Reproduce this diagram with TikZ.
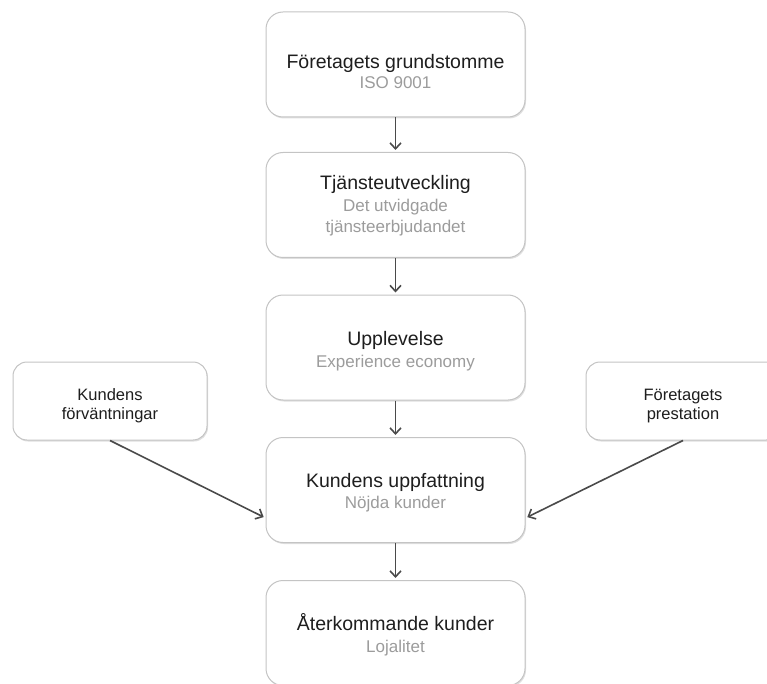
\documentclass[tikz,border=0pt]{standalone}
\usepackage{fontspec}
\setmainfont{Liberation Sans}
\usetikzlibrary{arrows.meta,shadows}
\definecolor{linegray}{HTML}{C4C4C4}
\definecolor{subgray}{HTML}{9C9C9C}
\definecolor{textgray}{HTML}{1E1E1E}
\definecolor{arrowgray}{HTML}{4A4A4A}

\begin{document}
\begin{tikzpicture}[x=1pt,y=-1pt,
  box/.style={draw=linegray, line width=1pt, fill=white, rounded corners=17pt,
    minimum width=259pt, minimum height=105pt,
    drop shadow={opacity=0.25,shadow xshift=1pt,shadow yshift=-1.5pt}},
  sidebox/.style={box, minimum width=194pt, minimum height=78pt, rounded corners=14pt},
  titel/.style={anchor=base, inner sep=0pt, text=textgray, font=\fontsize{19.5}{23}\selectfont},
  under/.style={anchor=base, inner sep=0pt, text=subgray, font=\fontsize{17}{21}\selectfont},
  sidetext/.style={anchor=base, inner sep=0pt, text=textgray, font=\fontsize{16.5}{20}\selectfont},
  pil/.style={-{Straight Barb[length=6pt,width=11pt]}, line width=1.6pt,
    draw=arrowgray, shorten >=2pt}]
\useasboundingbox (0,0) rectangle (767,684);
% main column
\node[box] (1) at (395.5,64.5) {};
\node[box] (2) at (395.5,205) {};
\node[box] (3) at (395.5,347.5) {};
\node[box] (4) at (395.5,490) {};
\node[box] (5) at (395.5,633) {};
\node[titel] (1t) at (395.5,69) {Företagets grundstomme};
\node[under] (1u) at (395.5,89) {ISO 9001};
\node[titel] (2t) at (395.5,190) {Tjänsteutveckling};
\node[under] (2u) at (395.5,212) {Det utvidgade};
\node[under] (2v) at (395.5,233) {tjänsteerbjudandet};
\node[titel] (3t) at (395.5,345) {Upplevelse};
\node[under] (3u) at (395.5,367) {Experience economy};
\node[titel] (4t) at (395.5,487) {Kundens uppfattning};
\node[under] (4u) at (395.5,508) {Nöjda kunder};
\node[titel] (5t) at (395.5,630) {Återkommande kunder};
\node[under] (5u) at (395.5,652) {Lojalitet};
% side boxes
\node[sidebox] (a) at (110,401) {};
\node[sidebox] (b) at (683,401) {};
\node[sidetext] (at) at (110,400) {Kundens};
\node[sidetext] (au) at (110,419.5) {förväntningar};
\node[sidetext] (bt) at (683,400) {Företagets};
\node[sidetext] (bu) at (683,419.5) {prestation};
% arrows
\draw[pil] (1) -- (2);
\draw[pil] (2) -- (3);
\draw[pil] (3) -- (4);
\draw[pil] (4) -- (5);
\draw[pil] (a.south) -- ([yshift=-28pt]4.west);
\draw[pil] (b.south) -- ([yshift=-28pt]4.east);
\end{tikzpicture}
\end{document}
